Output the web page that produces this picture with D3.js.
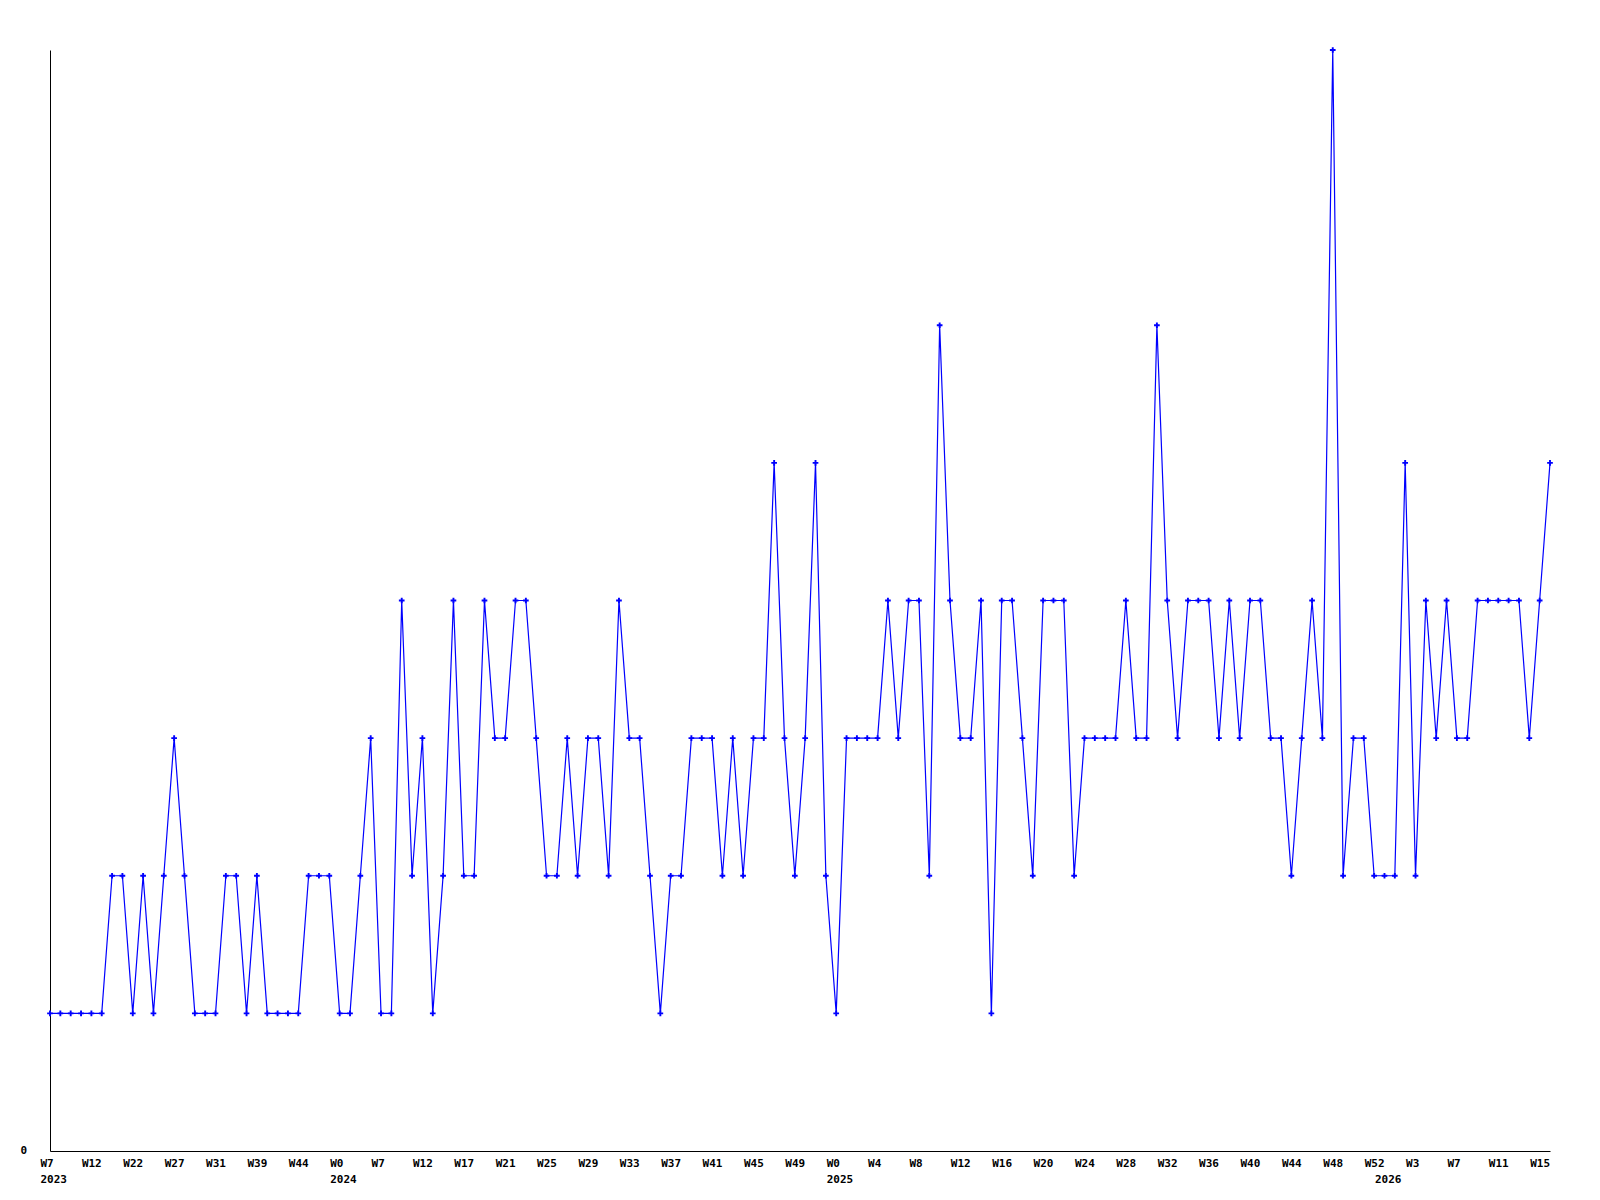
<!DOCTYPE html>
<html>
<head>
<meta charset="utf-8">
<script src="https://cdn.jsdelivr.net/npm/d3@7"></script>
<style>
  body { margin: 0; background: #fff; }
  text { font-family: "DejaVu Sans Mono", monospace; font-weight: bold; font-size: 11px; fill: #000; }
</style>
</head>
<body>
<script>
// weekly values, one per point
var values = [
  1,1,1,1,1,1,2,2,1,2, 1,2,3,2,1,1,1,2,2,1,
  2,1,1,1,1,2,2,2,1,1, 2,3,1,1,4,2,3,1,2,4,
  2,2,4,3,3,4,4,3,2,2, 3,2,3,3,2,4,3,3,2,1,
  2,2,3,3,3,2,3,2,3,3, 5,3,2,3,5,2,1,3,3,3,
  3,4,3,4,4,2,6,4,3,3, 4,1,4,4,3,2,4,4,4,2,
  3,3,3,3,4,3,3,6,4,3, 4,4,4,3,4,3,4,4,3,3,
  2,3,4,3,8,2,3,3,2,2, 2,5,2,4,3,4,3,3,4,4,
  4,4,4,3,4,5
];

// week labels, shown on every 4th point
var tickEvery = 4;
var tickLabels = ["W7","W12","W22","W27","W31","W39","W44",
  "W0","W7","W12","W17","W21","W25","W29","W33","W37","W41","W45","W49",
  "W0","W4","W8","W12","W16","W20","W24","W28","W32","W36","W40","W44","W48","W52",
  "W3","W7","W11","W15"];

// first point of each year
var yearStarts = [0, 28, 76, 129];
var yearLabels = ["2023", "2024", "2025", "2026"];

var yMax = 8;

// set the dimensions of the graph
var width = 1600, height = 1200;
var margin = {top: 50, right: 50, bottom: 49, left: 50};
var plotLeft = margin.left,
    plotRight = width - margin.right,
    plotTop = margin.top,
    plotBottom = height - margin.bottom;

var svg = d3.select("body").append("svg")
    .attr("width", width)
    .attr("height", height);

// set the ranges
var x = d3.scaleLinear().domain([0, values.length - 1]).range([plotLeft, plotRight]);
var y = d3.scaleLinear().domain([0, yMax]).range([plotBottom, plotTop]);

// x axis with week labels
var xAxis = svg.append("g")
    .attr("transform", "translate(0," + plotBottom + ")")
    .call(d3.axisBottom(x)
      .tickValues(d3.range(0, values.length, tickEvery))
      .tickSize(0).tickSizeOuter(0)
      .tickPadding(0)
      .tickFormat(function(d) { return tickLabels[d / tickEvery]; }));
xAxis.select(".domain").attr("stroke", "#000").attr("stroke-width", 1);
xAxis.selectAll("text")
    .attr("text-anchor", "start")
    .attr("x", -10)
    .attr("y", 16)
    .attr("dy", null);

// year row under the week labels
var yearAxis = svg.append("g")
    .attr("transform", "translate(0," + plotBottom + ")")
    .call(d3.axisBottom(x)
      .tickValues(yearStarts)
      .tickSize(0).tickSizeOuter(0)
      .tickFormat(function(d, i) { return yearLabels[i]; }));
yearAxis.select(".domain").remove();
yearAxis.selectAll("text")
    .attr("text-anchor", "start")
    .attr("x", -10)
    .attr("y", 32)
    .attr("dy", null);

// y axis, only the zero is labelled
var yAxis = svg.append("g")
    .attr("transform", "translate(" + plotLeft + ",0)")
    .call(d3.axisLeft(y)
      .tickValues([0])
      .tickSize(0).tickSizeOuter(0)
      .tickPadding(23));
yAxis.select(".domain").attr("stroke", "#000").attr("stroke-width", 1);
yAxis.selectAll("text").attr("dy", "0.2em");

// the line
var line = d3.line()
    .x(function(d, i) { return x(i); })
    .y(function(d) { return y(d); });

svg.append("path")
    .datum(values)
    .attr("fill", "none")
    .attr("stroke", "#0000ff")
    .attr("stroke-width", 1.2)
    .attr("d", line);

// point markers
svg.selectAll(".dot")
    .data(values)
    .enter().append("path")
    .attr("class", "dot")
    .attr("transform", function(d, i) { return "translate(" + x(i) + "," + y(d) + ")"; })
    .attr("d", d3.symbol().type(d3.symbolCross).size(18))
    .attr("fill", "#0000ff");
</script>
</body>
</html>
